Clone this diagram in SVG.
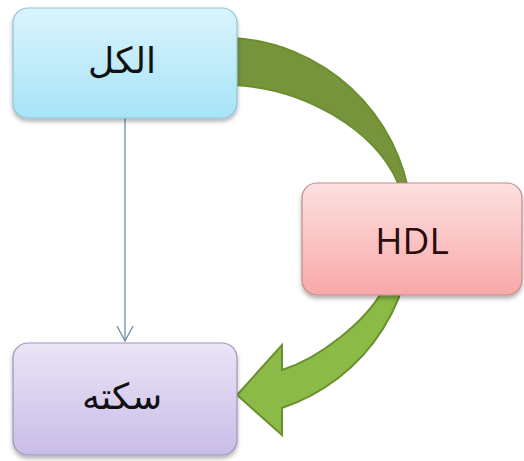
<svg xmlns="http://www.w3.org/2000/svg" width="524" height="461" viewBox="0 0 524 461">
  <defs>
    <style>
      .box { stroke-width: 1.2; filter: url(#shadow); }
      .lbl { font-family: "DejaVu Sans", "Noto Sans", sans-serif; font-size: 36px; fill: #111; text-anchor: middle; dominant-baseline: central; }
      .lat { font-family: "Open Sans", "Liberation Sans", sans-serif; font-size: 37px; fill: #2a0c0c; text-anchor: middle; dominant-baseline: central; }
      .link { stroke: #6f8ea1; stroke-width: 1.3; fill: none; }
    </style>
    <filter id="shadow" x="-10%" y="-10%" width="120%" height="130%">
      <feDropShadow dx="0" dy="3" stdDeviation="2" flood-color="#000" flood-opacity="0.3"/>
    </filter>
    <linearGradient id="gBlue" x1="0" y1="0" x2="0" y2="1">
      <stop offset="0" stop-color="#daf4fc"/>
      <stop offset="1" stop-color="#a7e3f7"/>
    </linearGradient>
    <linearGradient id="gPink" x1="0" y1="0" x2="0" y2="1">
      <stop offset="0" stop-color="#fde0e0"/>
      <stop offset="1" stop-color="#f8a8a8"/>
    </linearGradient>
    <linearGradient id="gPurple" x1="0" y1="0" x2="0" y2="1">
      <stop offset="0" stop-color="#ebe4f6"/>
      <stop offset="1" stop-color="#c9bce8"/>
    </linearGradient>
    <linearGradient id="gGreen" gradientUnits="userSpaceOnUse" x1="0" y1="190" x2="0" y2="300">
      <stop offset="0" stop-color="#77933c"/>
      <stop offset="1" stop-color="#8bba47"/>
    </linearGradient>
    <marker id="openArrow" viewBox="0 0 16 18" refX="15" refY="9" markerWidth="16" markerHeight="18" markerUnits="userSpaceOnUse" orient="auto">
      <path d="M0,1 L15,9 L0,17" fill="none" stroke="#6f8ea1" stroke-width="1.3"/>
    </marker>
  </defs>

  <g id="connectors">
    <path id="arrow-curved" d="M 233,38 A 190 190 0 0 1 282,408 L 282,435 L 237,395 L 282,345 L 282,370 C 320,358 365,322 383,290 C 398,262 402,215 398,183 C 375,130 305,88 233,85 Z" fill="url(#gGreen)" stroke="#6b8f2f" stroke-width="2" stroke-linejoin="miter"/>
    <line id="link-top-bottom" class="link" x1="125" y1="118" x2="125" y2="341" marker-end="url(#openArrow)"/>
  </g>

  <g id="node-kol">
    <rect class="box" x="13" y="8" width="224" height="110" rx="15" fill="url(#gBlue)" stroke="#8ec3d8"/>
    <text class="lbl" x="122" y="60">الكل</text>
  </g>

  <g id="node-hdl">
    <rect class="box" x="302" y="183" width="220" height="112" rx="15" fill="url(#gPink)" stroke="#c48c8c"/>
    <text class="lat" x="412" y="239">HDL</text>
  </g>

  <g id="node-sakte">
    <rect class="box" x="13" y="343" width="224" height="112" rx="15" fill="url(#gPurple)" stroke="#9f93bb"/>
    <text class="lbl" x="122" y="396">سكته</text>
  </g>
</svg>
